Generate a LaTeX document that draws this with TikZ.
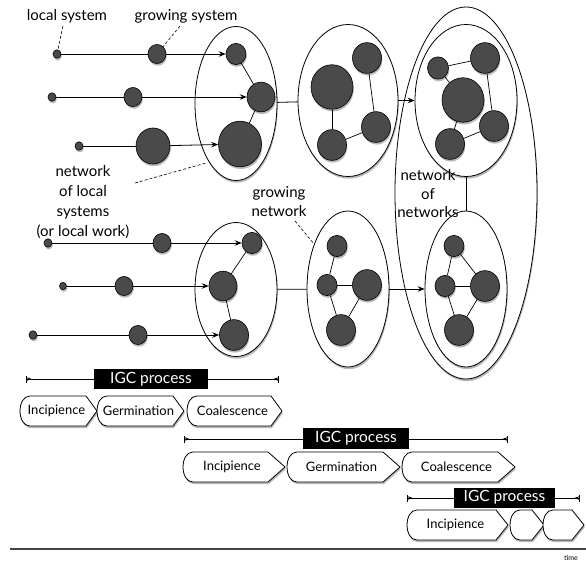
\documentclass[tikz,border=0pt]{standalone}
\usepackage{fontspec}
\setmainfont{Lato}
\usetikzlibrary{shapes.geometric,shadows,arrows.meta,backgrounds}
\definecolor{nodegray}{HTML}{4A4A4A}
\definecolor{axisgray}{HTML}{444444}
\tikzset{
  shadowed/.style={drop shadow={shadow xshift=0.8pt, shadow yshift=-2.2pt, opacity=0.28, fill=black}},
  blob/.style={ellipse, draw=black, line width=0.6pt, fill=nodegray, inner sep=0pt,
    minimum width={2*#1}, minimum height={2.12*#1}, shadowed},
  grp/.style 2 args={ellipse, draw=black, line width=0.8pt, fill=white, inner sep=0pt,
    minimum width={#1}, minimum height={#2}, shadowed},
  edge/.style={draw=black, line width=0.7pt},
  plain/.style={draw=black, line width=0.8pt},
  conn/.style={draw=black, line width=0.8pt, -{Stealth[length=7pt,width=5.5pt,inset=2.5pt]}},
  hint/.style={draw=black, line width=0.6pt, dash pattern=on 3pt off 2pt},
  lbl/.style={font=\fontsize{15}{20}\selectfont, inner sep=0pt, align=center},
  chevbox/.style={draw=black, line width=0.8pt, fill=white, shadowed},
  chevtext/.style={font=\fontsize{13}{15}\selectfont, inner sep=0pt},
  igcbox/.style={fill=black, text=white, font=\fontsize{15.5}{17}\selectfont, inner sep=0pt},
  span/.style={draw=black, line width=0.6pt, {Bar[width=7pt]Stealth[length=5pt,width=3.5pt,reversed]}-{Stealth[length=5pt,width=3.5pt,reversed]Bar[width=7pt]}},
}
\newcommand{\chevshape}[6]{%
  \path[chevbox] ({#2+10},{#4-15}) -- ({#3-#5},{#4-15}) -- (#3,#4) -- ({#3-#5},{#4+15}) -- ({#2+10},{#4+15}) .. controls ({#2-3.3},{#4+15}) and ({#2-3.3},{#4-15}) .. cycle;
  \node[chevtext] (#1) at ({(#2+#3)/2-2},#4) {#6};
}
\begin{document}
\begin{tikzpicture}[x=1pt,y=-1pt]
\useasboundingbox (0,0) rectangle (586,562);

% ---------- group ellipses ----------
\node[grp={142}{372}] (E0) at (466,193) {};
\node[grp={82}{154}] (E1) at (236,103.5) {};
\node[grp={100}{152}] (E2) at (348,100.5) {};
\node[grp={102}{152}] (E3) at (466,100.5) {};
\node[grp={82}{156}] (E4) at (466,289) {};
\node[grp={82}{156}] (E5b) at (348,289) {};
\node[grp={82}{134}] (E5) at (236,289.5) {};

% ---------- links between groups ----------
\draw[plain] (E1) -- (E2);
\draw[conn] (E2.east) -- (E3.west);
\draw[plain] (E3) -- (E4);
\draw[plain] (E5) -- (E5b);
\draw[conn] (E5b.east) -- (E4.west);

% ---------- top-left local systems ----------
\node[blob=4] (a1) at (57,54) {};
\node[blob=4] (a2) at (52,97) {};
\node[blob=4] (a3) at (79,146) {};
\node[blob=9] (m1) at (157,54) {};
\node[blob=9] (m2) at (133,97) {};
\node[blob=17] (m3) at (153,146) {};
\node[blob=10] (n11) at (236,54) {};
\node[blob=14] (n12) at (261,97) {};
\node[blob=21.5] (n13) at (240,144) {};
\draw[edge] (n11) -- (n12);
\draw[edge] (n12) -- (n13);
\draw[plain] (a1) -- (m1);
\draw[plain] (a2) -- (m2);
\draw[plain] (a3) -- (m3);
\draw[conn] (m1) -- (n11);
\draw[conn] (m2) -- (n12);
\draw[conn] (m3) -- (n13);

% ---------- network 2 ----------
\node[blob=21] (n21) at (332,87) {};
\node[blob=14.5] (n22) at (367,58) {};
\node[blob=14.5] (n23) at (376,127) {};
\node[blob=14.5] (n24) at (332,145) {};
\draw[edge] (n21) -- (n24);
\draw[edge] (n22) -- (n23);
\draw[edge] (n24) -- (n23);

% ---------- network 3 (top inner) ----------
\node[blob=10.5] (n31) at (438,68) {};
\node[blob=14.5] (n32) at (485,58) {};
\node[blob=21] (n33) at (463,100) {};
\node[blob=14.5] (n34) at (494,126) {};
\node[blob=14.5] (n35) at (450,144) {};
\draw[edge] (n31) -- (n32);
\draw[edge] (n31) -- (n33);
\draw[edge] (n32) -- (n34);
\draw[edge] (n33) -- (n35);
\draw[edge] (n35) -- (n34);

% ---------- network 4 (bottom inner) ----------
\node[blob=10] (n41) at (454,246) {};
\node[blob=10] (n42) at (445,286) {};
\node[blob=14.5] (n43) at (485,286) {};
\node[blob=14.5] (n44) at (459,330) {};
\draw[edge] (n41) -- (n42);
\draw[edge] (n41) -- (n43);
\draw[edge] (n42) -- (n43);
\draw[edge] (n42) -- (n44);
\draw[edge] (n43) -- (n44);

% ---------- growing network ----------
\node[blob=10] (n51) at (337,246) {};
\node[blob=10] (n52) at (327,285) {};
\node[blob=14.5] (n53) at (367,285) {};
\node[blob=14.5] (n54) at (341,330) {};
\draw[edge] (n51) -- (n52);
\draw[edge] (n52) -- (n53);
\draw[edge] (n52) -- (n54);
\draw[edge] (n53) -- (n54);

% ---------- bottom-left local systems ----------
\node[blob=4] (b1) at (48,243) {};
\node[blob=3.5] (b2) at (63,286) {};
\node[blob=4] (b3) at (33,335) {};
\node[blob=9] (c1) at (162,243) {};
\node[blob=9] (c2) at (124,286) {};
\node[blob=9] (c3) at (138,335) {};
\node[blob=10] (n61) at (252,243) {};
\node[blob=14] (n62) at (223,286) {};
\node[blob=14.5] (n63) at (234,335) {};
\draw[edge] (n61) -- (n62);
\draw[edge] (n62) -- (n63);
\draw[plain] (b1) -- (c1);
\draw[plain] (b2) -- (c2);
\draw[plain] (b3) -- (c3);
\draw[conn] (c1) -- (n61);
\draw[conn] (c2) -- (n62);
\draw[conn] (c3) -- (n63);

% ---------- labels ----------
\node[lbl] (tls) at (67,16) {local system};
\node[lbl] (tgs) at (186,16) {growing system};
\node[lbl] (tnl) at (83,202) {network\\of local\\systems\\(or local work)};
\node[lbl, font=\fontsize{15}{19}\selectfont] (tgn) at (279,202) {growing\\network};
\node[lbl, font=\fontsize{15}{18.5}\selectfont] (tnn) at (428,194) {network\\of\\networks};
\coordinate (ls) at (63,26);
\coordinate (gs) at (180,26);
\coordinate (nl) at (135,183);
\coordinate (nlE) at (206,163);
\coordinate (gn) at (295,221);
\coordinate (gnE) at (314,244);
\draw[hint] (ls) -- (a1);
\draw[hint] (gs) -- (m1);
\draw[hint] (nl) -- (nlE);
\draw[hint] (gn) -- (gnE);

% ---------- IGC process 1 ----------
\coordinate (s1) at (26,379);
\coordinate (e1) at (279,379);
\draw[span] (s1) -- (e1);
\node[igcbox, minimum width=114pt, minimum height=20pt] (igc1) at (151,379) {IGC process};
\chevshape{inc1}{20}{97}{411}{11}{Incipience}
\chevshape{ger1}{97}{184}{411}{11}{Germination}
\chevshape{coa1}{187}{282}{411}{11}{Coalescence}

% ---------- IGC process 2 ----------
\coordinate (s2) at (184,439);
\coordinate (e2) at (508,439);
\draw[span] (s2) -- (e2);
\node[igcbox, minimum width=106pt, minimum height=21pt] (igc2) at (356,438.5) {IGC process};
\chevshape{inc2}{183}{285}{467}{17}{Incipience}
\chevshape{ger2}{287}{400}{467}{17}{Germination}
\chevshape{coa2}{402}{515}{467}{17}{Coalescence}

% ---------- IGC process 3 ----------
\coordinate (s3) at (407,498);
\coordinate (e3) at (580,498);
\draw[span] (s3) -- (e3);
\node[igcbox, minimum width=101pt, minimum height=20pt] (igc3) at (504.5,497.5) {IGC process};
\chevshape{inc3}{407}{508}{525}{12}{Incipience}
\chevshape{blk1}{510}{544}{525}{12}{}
\chevshape{blk2}{543}{584}{525}{12}{}

% ---------- time axis ----------
\coordinate (t0) at (10,549);
\coordinate (t1) at (586,549);
\draw[draw=axisgray, line width=1.3pt] (t0) -- (t1);
\node[font=\fontsize{7}{8}\selectfont, inner sep=0pt] (time) at (571,557.5) {time};
\end{tikzpicture}
\end{document}
